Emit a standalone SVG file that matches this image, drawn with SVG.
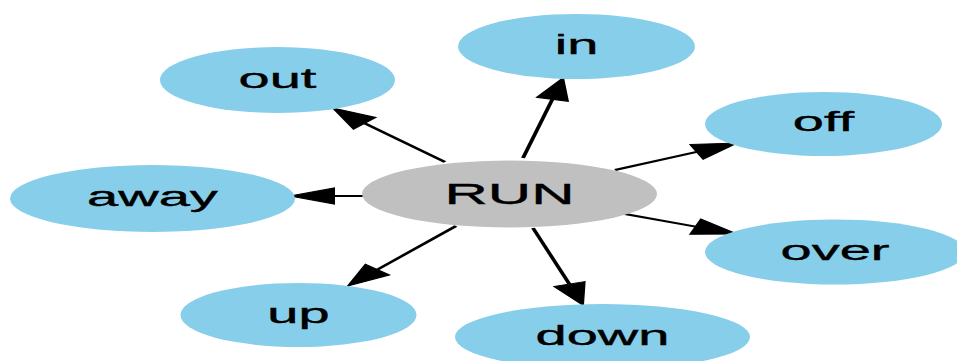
<svg xmlns="http://www.w3.org/2000/svg" width="957" height="361" viewBox="0 0 957 361">
<style>
.n ellipse{fill:#87ceeb;stroke:none}
#RUN ellipse{fill:#c0c0c0}
text{font-family:"Liberation Sans",Arial,sans-serif;font-size:28px;fill:#000;stroke:#000;stroke-width:0.4;text-anchor:middle}
.e{stroke:#000;stroke-width:2;fill:none;marker-end:url(#ah)}
</style>
<defs>
<marker id="ah" markerUnits="userSpaceOnUse" markerWidth="24" markerHeight="18" refX="0" refY="8" orient="auto" overflow="visible">
<path d="M0,0 L22,8 L0,16 z" fill="#000" stroke="#000" stroke-width="1"/>
</marker>
</defs>
<rect width="957" height="361" fill="#fff"/>
<g transform="scale(2,1)">
<g id="edges">
<path class="e" d="M222.5,162 L182.3,123.3"/>
<path class="e" d="M261.5,158 L276.2,99.3"/>
<path class="e" d="M307.5,170 L348.4,151.9"/>
<path class="e" d="M312.5,214 L347.8,226.6"/>
<path class="e" d="M181.5,196 L167,196"/>
<path class="e" d="M228,226 L188.7,269.6"/>
<path class="e" d="M266.5,228 L284.7,284.1"/>
</g>
<g id="RUN" class="n"><ellipse cx="254.75" cy="194" rx="73.75" ry="33.5"/><text x="254.75" y="204" style="font-size:30px">RUN</text></g>
<g id="out" class="n"><ellipse cx="138.75" cy="80" rx="58.75" ry="33"/><text x="138.75" y="88">out</text></g>
<g id="in" class="n"><ellipse cx="288.25" cy="46.5" rx="59.25" ry="32.5"/><text x="288.25" y="54">in</text></g>
<g id="off" class="n"><ellipse cx="411.75" cy="124" rx="59.25" ry="32"/><text x="411.75" y="131">off</text></g>
<g id="over" class="n"><ellipse cx="417.5" cy="252" rx="65" ry="32.5"/><text x="417.5" y="260">over</text></g>
<g id="away" class="n"><ellipse cx="76.25" cy="198.5" rx="71.25" ry="33.5"/><text x="76.25" y="206">away</text></g>
<g id="up" class="n"><ellipse cx="149.25" cy="315" rx="59" ry="32"/><text x="149.25" y="323">up</text></g>
<g id="down" class="n"><ellipse cx="301.25" cy="337" rx="73.75" ry="33"/><text x="301.25" y="345">down</text></g>
</g>
</svg>
